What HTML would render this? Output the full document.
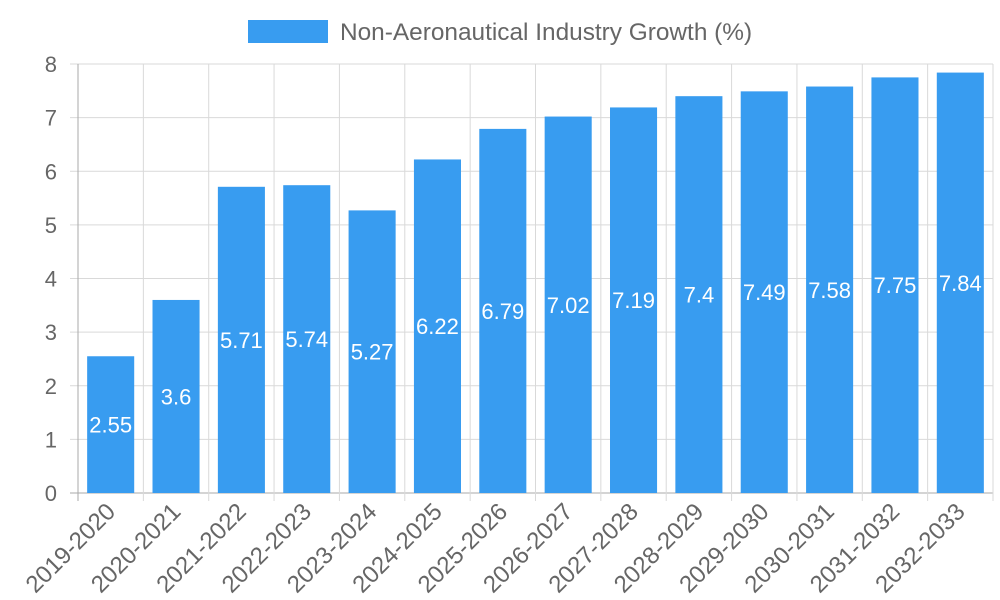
<!DOCTYPE html>
<html><head><meta charset="utf-8"><style>
body{margin:0;background:#fff;}
svg{display:block;font-family:"Liberation Sans",sans-serif;}
</style></head><body>
<svg id="chart" width="1000" height="600">
<g>
<rect x="248" y="20" width="80" height="23" fill="#389cf0"></rect>
<text x="340" y="40" font-size="24.4" fill="#666">Non-Aeronautical Industry Growth (%)</text>
</g>
<g id="grid"></g><g id="bars"></g><g id="labels"></g>
</svg>
<script>
const categories=["2019-2020","2020-2021","2021-2022","2022-2023","2023-2024","2024-2025","2025-2026","2026-2027","2027-2028","2028-2029","2029-2030","2030-2031","2031-2032","2032-2033"];
const values=[2.55,3.6,5.71,5.74,5.27,6.22,6.79,7.02,7.19,7.4,7.49,7.58,7.75,7.84];
const yTicks=[0,1,2,3,4,5,6,7,8];
const NS="http://www.w3.org/2000/svg";
const L=78,R=993,T=64,B=493,yMax=8;
const cw=(R-L)/categories.length;
const y=v=>B-(v/yMax)*(B-T);
const xc=i=>L+cw*(i+0.5);
function mk(tag,attrs,parent,text){const e=document.createElementNS(NS,tag);for(const k in attrs)e.setAttribute(k,attrs[k]);if(text!==undefined)e.textContent=text;parent.appendChild(e);return e;}
const grid=document.getElementById('grid'),bars=document.getElementById('bars'),labels=document.getElementById('labels');
yTicks.forEach(t=>{
  const ln=mk('line',{x1:70,x2:R,y1:y(t),y2:y(t),stroke:t===0?'#aaa':'#d9d9d9','stroke-width':1},grid);
  
  
  const tx=mk('text',{x:57,y:y(t)+8,'font-size':22,fill:'#666','text-anchor':'end'},grid,String(t));
  
  
});
for(let i=0;i<=categories.length;i++){
  const x=L+cw*i;
  const ln=mk('line',{x1:x,x2:x,y1:T,y2:B+8,stroke:i===0?'#aaa':'#d9d9d9','stroke-width':1},grid);
  
  
}
categories.forEach((c,i)=>{
  const bw=cw*0.72,v=values[i];
  const r=mk('rect',{x:xc(i)-bw/2,y:y(v),width:bw,height:B-y(v),fill:'#389cf0'},bars);
  
  
  const vl=mk('text',{x:xc(i),y:(y(v)+B)/2+8,'font-size':22,fill:'#fff','text-anchor':'middle'},labels,String(v));
  
  
  const ax=xc(i)+6,ay=B+20;
  const xl=mk('text',{x:ax,y:ay,'font-size':24,fill:'#666','text-anchor':'end',transform:`rotate(-45 ${ax} ${ay})`},labels,c);
  
  
});
</script>
</body></html>
